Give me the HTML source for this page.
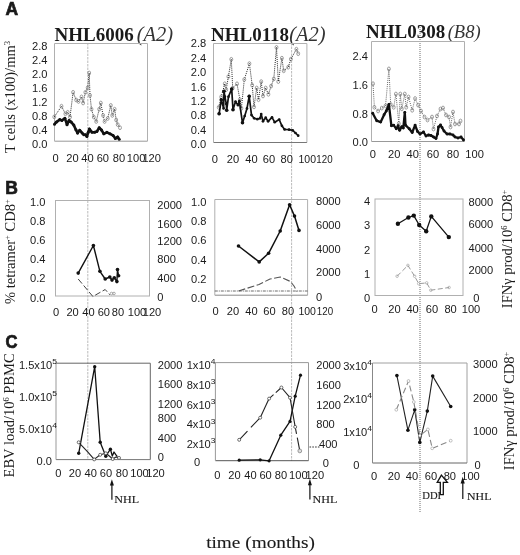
<!DOCTYPE html>
<html><head><meta charset="utf-8"><style>
html,body{margin:0;padding:0;background:#fff;}
svg{display:block;filter:blur(0.3px);}
</style></head><body>
<svg width="520" height="555" viewBox="0 0 520 555">
<rect width="520" height="555" fill="#fff"/>
<text transform="translate(5.5,14.6)" font-size="17.5" text-anchor="start" font-family='"Liberation Sans", sans-serif' font-weight="bold" font-style="normal" fill="#1a1a1a" stroke="#1a1a1a" stroke-width="0.7">A</text>
<text transform="translate(5.3,193.5)" font-size="17.5" text-anchor="start" font-family='"Liberation Sans", sans-serif' font-weight="bold" font-style="normal" fill="#1a1a1a" stroke="#1a1a1a" stroke-width="0.7">B</text>
<text transform="translate(5.6,347.6) scale(0.95,1)" font-size="17.5" text-anchor="start" font-family='"Liberation Sans", sans-serif' font-weight="bold" font-style="normal" fill="#1a1a1a" stroke="#1a1a1a" stroke-width="0.7">C</text>
<text x="54.5" y="40.5" font-size="19" font-family='"Liberation Serif", serif' fill="#1a1a1a"><tspan font-weight="bold">NHL6006</tspan><tspan dx="3" font-style="italic" font-size="20.5" fill="#333">(A2)</tspan></text>
<text x="211" y="41" font-size="19" font-family='"Liberation Serif", serif' fill="#1a1a1a"><tspan font-weight="bold">NHL0118</tspan><tspan dx="0" font-style="italic" font-size="20.5" fill="#333">(A2)</tspan></text>
<text x="366" y="38.3" font-size="19" font-family='"Liberation Serif", serif' fill="#1a1a1a"><tspan font-weight="bold">NHL0308</tspan><tspan dx="2.5" font-style="italic" font-size="18.5" fill="#333">(B8)</tspan></text>
<line x1="87.8" y1="43" x2="87.8" y2="459.6" stroke="#a8a8a8" stroke-width="0.8" stroke-dasharray="2.5,1"/>
<line x1="291.6" y1="43" x2="291.6" y2="461" stroke="#a8a8a8" stroke-width="0.8" stroke-dasharray="2.5,1"/>
<line x1="420" y1="27" x2="420" y2="513" stroke="#4a4a4a" stroke-width="0.8" stroke-dasharray="1,1"/>
<line x1="54.5" y1="43.5" x2="147.5" y2="43.5" stroke="#b0b0b0" stroke-width="1"/>
<line x1="147.5" y1="43.5" x2="147.5" y2="141.2" stroke="#b0b0b0" stroke-width="1"/>
<line x1="54.5" y1="141.2" x2="147.5" y2="141.2" stroke="#999" stroke-width="1"/>
<line x1="54.5" y1="43.5" x2="54.5" y2="141.2" stroke="#b0b0b0" stroke-width="1"/>
<line x1="213.5" y1="43.5" x2="306.9" y2="43.5" stroke="#b0b0b0" stroke-width="1"/>
<line x1="306.9" y1="43.5" x2="306.9" y2="142.5" stroke="#b0b0b0" stroke-width="1"/>
<line x1="213.5" y1="142.5" x2="306.9" y2="142.5" stroke="#777" stroke-width="1"/>
<line x1="213.5" y1="43.5" x2="213.5" y2="142.5" stroke="#b0b0b0" stroke-width="1"/>
<line x1="371.5" y1="41.5" x2="464.5" y2="41.5" stroke="#b0b0b0" stroke-width="1"/>
<line x1="464.5" y1="41.5" x2="464.5" y2="141.5" stroke="#b0b0b0" stroke-width="1"/>
<line x1="371.5" y1="141.5" x2="464.5" y2="141.5" stroke="#999" stroke-width="1"/>
<line x1="371.5" y1="41.5" x2="371.5" y2="141.5" stroke="#b0b0b0" stroke-width="1"/>
<text transform="translate(47.5,49.67) scale(1.06,1)" font-size="10.5" text-anchor="end" font-family='"Liberation Sans", sans-serif' font-weight="normal" font-style="normal" fill="#1a1a1a">2.8</text>
<text transform="translate(47.5,63.67) scale(1.06,1)" font-size="10.5" text-anchor="end" font-family='"Liberation Sans", sans-serif' font-weight="normal" font-style="normal" fill="#1a1a1a">2.4</text>
<text transform="translate(47.5,77.67) scale(1.06,1)" font-size="10.5" text-anchor="end" font-family='"Liberation Sans", sans-serif' font-weight="normal" font-style="normal" fill="#1a1a1a">2.0</text>
<text transform="translate(47.5,91.67) scale(1.06,1)" font-size="10.5" text-anchor="end" font-family='"Liberation Sans", sans-serif' font-weight="normal" font-style="normal" fill="#1a1a1a">1.6</text>
<text transform="translate(47.5,105.67) scale(1.06,1)" font-size="10.5" text-anchor="end" font-family='"Liberation Sans", sans-serif' font-weight="normal" font-style="normal" fill="#1a1a1a">1.2</text>
<text transform="translate(47.5,119.67) scale(1.06,1)" font-size="10.5" text-anchor="end" font-family='"Liberation Sans", sans-serif' font-weight="normal" font-style="normal" fill="#1a1a1a">0.8</text>
<text transform="translate(47.5,133.68) scale(1.06,1)" font-size="10.5" text-anchor="end" font-family='"Liberation Sans", sans-serif' font-weight="normal" font-style="normal" fill="#1a1a1a">0.4</text>
<text transform="translate(47.5,147.68) scale(1.06,1)" font-size="10.5" text-anchor="end" font-family='"Liberation Sans", sans-serif' font-weight="normal" font-style="normal" fill="#1a1a1a">0.0</text>
<text transform="translate(55.5,162.48) scale(1.06,1)" font-size="10.5" text-anchor="middle" font-family='"Liberation Sans", sans-serif' font-weight="normal" font-style="normal" fill="#1a1a1a">0</text>
<text transform="translate(72.4,162.48) scale(1.06,1)" font-size="10.5" text-anchor="middle" font-family='"Liberation Sans", sans-serif' font-weight="normal" font-style="normal" fill="#1a1a1a">20</text>
<text transform="translate(87.4,162.48) scale(1.06,1)" font-size="10.5" text-anchor="middle" font-family='"Liberation Sans", sans-serif' font-weight="normal" font-style="normal" fill="#1a1a1a">40</text>
<text transform="translate(102.8,162.48) scale(1.06,1)" font-size="10.5" text-anchor="middle" font-family='"Liberation Sans", sans-serif' font-weight="normal" font-style="normal" fill="#1a1a1a">60</text>
<text transform="translate(119,162.48) scale(1.06,1)" font-size="10.5" text-anchor="middle" font-family='"Liberation Sans", sans-serif' font-weight="normal" font-style="normal" fill="#1a1a1a">80</text>
<text transform="translate(136.1,162.48) scale(1.06,1)" font-size="10.5" text-anchor="middle" font-family='"Liberation Sans", sans-serif' font-weight="normal" font-style="normal" fill="#1a1a1a">100</text>
<text transform="translate(151.7,162.48) scale(1.06,1)" font-size="10.5" text-anchor="middle" font-family='"Liberation Sans", sans-serif' font-weight="normal" font-style="normal" fill="#1a1a1a">120</text>
<text transform="translate(206.3,47.38) scale(1.06,1)" font-size="10.5" text-anchor="end" font-family='"Liberation Sans", sans-serif' font-weight="normal" font-style="normal" fill="#1a1a1a">2.8</text>
<text transform="translate(206.3,61.78) scale(1.06,1)" font-size="10.5" text-anchor="end" font-family='"Liberation Sans", sans-serif' font-weight="normal" font-style="normal" fill="#1a1a1a">2.4</text>
<text transform="translate(206.3,76.2) scale(1.06,1)" font-size="10.5" text-anchor="end" font-family='"Liberation Sans", sans-serif' font-weight="normal" font-style="normal" fill="#1a1a1a">2.0</text>
<text transform="translate(206.3,90.61) scale(1.06,1)" font-size="10.5" text-anchor="end" font-family='"Liberation Sans", sans-serif' font-weight="normal" font-style="normal" fill="#1a1a1a">1.6</text>
<text transform="translate(206.3,105.02) scale(1.06,1)" font-size="10.5" text-anchor="end" font-family='"Liberation Sans", sans-serif' font-weight="normal" font-style="normal" fill="#1a1a1a">1.2</text>
<text transform="translate(206.3,119.42) scale(1.06,1)" font-size="10.5" text-anchor="end" font-family='"Liberation Sans", sans-serif' font-weight="normal" font-style="normal" fill="#1a1a1a">0.8</text>
<text transform="translate(206.3,133.84) scale(1.06,1)" font-size="10.5" text-anchor="end" font-family='"Liberation Sans", sans-serif' font-weight="normal" font-style="normal" fill="#1a1a1a">0.4</text>
<text transform="translate(206.3,148.25) scale(1.06,1)" font-size="10.5" text-anchor="end" font-family='"Liberation Sans", sans-serif' font-weight="normal" font-style="normal" fill="#1a1a1a">0.0</text>
<text transform="translate(214.8,162.88) scale(1.06,1)" font-size="10.5" text-anchor="middle" font-family='"Liberation Sans", sans-serif' font-weight="normal" font-style="normal" fill="#1a1a1a">0</text>
<text transform="translate(233,162.88) scale(1.06,1)" font-size="10.5" text-anchor="middle" font-family='"Liberation Sans", sans-serif' font-weight="normal" font-style="normal" fill="#1a1a1a">20</text>
<text transform="translate(251.4,162.88) scale(1.06,1)" font-size="10.5" text-anchor="middle" font-family='"Liberation Sans", sans-serif' font-weight="normal" font-style="normal" fill="#1a1a1a">40</text>
<text transform="translate(269,162.88) scale(1.06,1)" font-size="10.5" text-anchor="middle" font-family='"Liberation Sans", sans-serif' font-weight="normal" font-style="normal" fill="#1a1a1a">60</text>
<text transform="translate(286.7,162.88) scale(1.06,1)" font-size="10.5" text-anchor="middle" font-family='"Liberation Sans", sans-serif' font-weight="normal" font-style="normal" fill="#1a1a1a">80</text>
<text transform="translate(307.3,162.88)" font-size="10.5" text-anchor="middle" font-family='"Liberation Sans", sans-serif' font-weight="normal" font-style="normal" fill="#1a1a1a">100</text>
<text transform="translate(324.5,162.88) scale(0.93,1)" font-size="10.5" text-anchor="middle" font-family='"Liberation Sans", sans-serif' font-weight="normal" font-style="normal" fill="#1a1a1a">120</text>
<text transform="translate(368,59.97) scale(1.06,1)" font-size="10.5" text-anchor="end" font-family='"Liberation Sans", sans-serif' font-weight="normal" font-style="normal" fill="#1a1a1a">2.4</text>
<text transform="translate(368,89.17) scale(1.06,1)" font-size="10.5" text-anchor="end" font-family='"Liberation Sans", sans-serif' font-weight="normal" font-style="normal" fill="#1a1a1a">1.6</text>
<text transform="translate(368,118.47) scale(1.06,1)" font-size="10.5" text-anchor="end" font-family='"Liberation Sans", sans-serif' font-weight="normal" font-style="normal" fill="#1a1a1a">0.8</text>
<text transform="translate(368,145.98) scale(1.06,1)" font-size="10.5" text-anchor="end" font-family='"Liberation Sans", sans-serif' font-weight="normal" font-style="normal" fill="#1a1a1a">0.0</text>
<text transform="translate(372.8,157.68) scale(1.06,1)" font-size="10.5" text-anchor="middle" font-family='"Liberation Sans", sans-serif' font-weight="normal" font-style="normal" fill="#1a1a1a">0</text>
<text transform="translate(394.2,157.68) scale(1.06,1)" font-size="10.5" text-anchor="middle" font-family='"Liberation Sans", sans-serif' font-weight="normal" font-style="normal" fill="#1a1a1a">20</text>
<text transform="translate(412.7,157.68) scale(1.06,1)" font-size="10.5" text-anchor="middle" font-family='"Liberation Sans", sans-serif' font-weight="normal" font-style="normal" fill="#1a1a1a">40</text>
<text transform="translate(432.9,157.68) scale(1.06,1)" font-size="10.5" text-anchor="middle" font-family='"Liberation Sans", sans-serif' font-weight="normal" font-style="normal" fill="#1a1a1a">60</text>
<text transform="translate(453,157.68) scale(1.06,1)" font-size="10.5" text-anchor="middle" font-family='"Liberation Sans", sans-serif' font-weight="normal" font-style="normal" fill="#1a1a1a">80</text>
<text transform="translate(474.6,157.68) scale(1.06,1)" font-size="10.5" text-anchor="middle" font-family='"Liberation Sans", sans-serif' font-weight="normal" font-style="normal" fill="#1a1a1a">100</text>
<text transform="translate(14.8,97) rotate(-90)" text-anchor="middle" font-size="14.5" font-family='"Liberation Serif", serif' fill="#1a1a1a">T cells (x100)/mm<tspan font-size="8.5" baseline-shift="5.5">3</tspan></text>
<polyline points="54.3,116.9 61.5,106.2 65.4,113.8 67.7,112.3 70,117 73.1,92.3 76.2,100 78.5,101.5 81.5,96.9 83.1,103 85.4,92.3 87.7,87.7 89.2,73 90,95.4 91.5,109.2 93.8,117 96.2,121.5 99.2,109.2 100.8,103 103.1,115.4 104.6,121.5 107.7,118.5 110.8,105.4 112.3,115.4 114.6,109.2 116.2,120 117.7,124.6 120,127.7" fill="none" stroke="#222" stroke-width="1.0" stroke-linejoin="round" stroke-dasharray="1,1.1"/>
<ellipse cx="54.3" cy="116.9" rx="1.45" ry="1.9" fill="none" stroke="#777" stroke-width="0.7"/>
<ellipse cx="61.5" cy="106.2" rx="1.45" ry="1.9" fill="none" stroke="#777" stroke-width="0.7"/>
<ellipse cx="65.4" cy="113.8" rx="1.45" ry="1.9" fill="none" stroke="#777" stroke-width="0.7"/>
<ellipse cx="67.7" cy="112.3" rx="1.45" ry="1.9" fill="none" stroke="#777" stroke-width="0.7"/>
<ellipse cx="70" cy="117" rx="1.45" ry="1.9" fill="none" stroke="#777" stroke-width="0.7"/>
<ellipse cx="73.1" cy="92.3" rx="1.45" ry="1.9" fill="none" stroke="#777" stroke-width="0.7"/>
<ellipse cx="76.2" cy="100" rx="1.45" ry="1.9" fill="none" stroke="#777" stroke-width="0.7"/>
<ellipse cx="78.5" cy="101.5" rx="1.45" ry="1.9" fill="none" stroke="#777" stroke-width="0.7"/>
<ellipse cx="81.5" cy="96.9" rx="1.45" ry="1.9" fill="none" stroke="#777" stroke-width="0.7"/>
<ellipse cx="83.1" cy="103" rx="1.45" ry="1.9" fill="none" stroke="#777" stroke-width="0.7"/>
<ellipse cx="85.4" cy="92.3" rx="1.45" ry="1.9" fill="none" stroke="#777" stroke-width="0.7"/>
<ellipse cx="87.7" cy="87.7" rx="1.45" ry="1.9" fill="none" stroke="#777" stroke-width="0.7"/>
<ellipse cx="89.2" cy="73" rx="1.45" ry="1.9" fill="none" stroke="#777" stroke-width="0.7"/>
<ellipse cx="90" cy="95.4" rx="1.45" ry="1.9" fill="none" stroke="#777" stroke-width="0.7"/>
<ellipse cx="91.5" cy="109.2" rx="1.45" ry="1.9" fill="none" stroke="#777" stroke-width="0.7"/>
<ellipse cx="93.8" cy="117" rx="1.45" ry="1.9" fill="none" stroke="#777" stroke-width="0.7"/>
<ellipse cx="96.2" cy="121.5" rx="1.45" ry="1.9" fill="none" stroke="#777" stroke-width="0.7"/>
<ellipse cx="99.2" cy="109.2" rx="1.45" ry="1.9" fill="none" stroke="#777" stroke-width="0.7"/>
<ellipse cx="100.8" cy="103" rx="1.45" ry="1.9" fill="none" stroke="#777" stroke-width="0.7"/>
<ellipse cx="103.1" cy="115.4" rx="1.45" ry="1.9" fill="none" stroke="#777" stroke-width="0.7"/>
<ellipse cx="104.6" cy="121.5" rx="1.45" ry="1.9" fill="none" stroke="#777" stroke-width="0.7"/>
<ellipse cx="107.7" cy="118.5" rx="1.45" ry="1.9" fill="none" stroke="#777" stroke-width="0.7"/>
<ellipse cx="110.8" cy="105.4" rx="1.45" ry="1.9" fill="none" stroke="#777" stroke-width="0.7"/>
<ellipse cx="112.3" cy="115.4" rx="1.45" ry="1.9" fill="none" stroke="#777" stroke-width="0.7"/>
<ellipse cx="114.6" cy="109.2" rx="1.45" ry="1.9" fill="none" stroke="#777" stroke-width="0.7"/>
<ellipse cx="116.2" cy="120" rx="1.45" ry="1.9" fill="none" stroke="#777" stroke-width="0.7"/>
<ellipse cx="117.7" cy="124.6" rx="1.45" ry="1.9" fill="none" stroke="#777" stroke-width="0.7"/>
<ellipse cx="120" cy="127.7" rx="1.45" ry="1.9" fill="none" stroke="#777" stroke-width="0.7"/>
<polyline points="54.5,124.2 56.4,122.1 59.8,119.6 61.9,120.4 64.9,118.3 67,124.7 69.1,120.4 71.2,122.1 73.8,125.1 75.9,129.7 77.6,133.1 79.7,130.2 82.2,133.1 83.9,134.8 85.6,134.8 86.9,136.5 88.2,132.3 89.4,128.9 92,132.3 94.6,132.3 96.9,131.5 99.2,127.7 101.5,130 103.8,133.8 106.9,132.3 110,133.8 113.1,135.4 115.4,138.5 117.7,136.9 119.2,139.2" fill="none" stroke="#111" stroke-width="2.6" stroke-linejoin="round"/>
<circle cx="54.5" cy="124.2" r="1.5" fill="#111" stroke="none" stroke-width="0.8"/>
<circle cx="56.4" cy="122.1" r="1.5" fill="#111" stroke="none" stroke-width="0.8"/>
<circle cx="59.8" cy="119.6" r="1.5" fill="#111" stroke="none" stroke-width="0.8"/>
<circle cx="61.9" cy="120.4" r="1.5" fill="#111" stroke="none" stroke-width="0.8"/>
<circle cx="64.9" cy="118.3" r="1.5" fill="#111" stroke="none" stroke-width="0.8"/>
<circle cx="67" cy="124.7" r="1.5" fill="#111" stroke="none" stroke-width="0.8"/>
<circle cx="69.1" cy="120.4" r="1.5" fill="#111" stroke="none" stroke-width="0.8"/>
<circle cx="71.2" cy="122.1" r="1.5" fill="#111" stroke="none" stroke-width="0.8"/>
<circle cx="73.8" cy="125.1" r="1.5" fill="#111" stroke="none" stroke-width="0.8"/>
<circle cx="75.9" cy="129.7" r="1.5" fill="#111" stroke="none" stroke-width="0.8"/>
<circle cx="77.6" cy="133.1" r="1.5" fill="#111" stroke="none" stroke-width="0.8"/>
<circle cx="79.7" cy="130.2" r="1.5" fill="#111" stroke="none" stroke-width="0.8"/>
<circle cx="82.2" cy="133.1" r="1.5" fill="#111" stroke="none" stroke-width="0.8"/>
<circle cx="83.9" cy="134.8" r="1.5" fill="#111" stroke="none" stroke-width="0.8"/>
<circle cx="85.6" cy="134.8" r="1.5" fill="#111" stroke="none" stroke-width="0.8"/>
<circle cx="86.9" cy="136.5" r="1.5" fill="#111" stroke="none" stroke-width="0.8"/>
<circle cx="88.2" cy="132.3" r="1.5" fill="#111" stroke="none" stroke-width="0.8"/>
<circle cx="89.4" cy="128.9" r="1.5" fill="#111" stroke="none" stroke-width="0.8"/>
<circle cx="92" cy="132.3" r="1.5" fill="#111" stroke="none" stroke-width="0.8"/>
<circle cx="94.6" cy="132.3" r="1.5" fill="#111" stroke="none" stroke-width="0.8"/>
<circle cx="96.9" cy="131.5" r="1.5" fill="#111" stroke="none" stroke-width="0.8"/>
<circle cx="99.2" cy="127.7" r="1.5" fill="#111" stroke="none" stroke-width="0.8"/>
<circle cx="101.5" cy="130" r="1.5" fill="#111" stroke="none" stroke-width="0.8"/>
<circle cx="103.8" cy="133.8" r="1.5" fill="#111" stroke="none" stroke-width="0.8"/>
<circle cx="106.9" cy="132.3" r="1.5" fill="#111" stroke="none" stroke-width="0.8"/>
<circle cx="110" cy="133.8" r="1.5" fill="#111" stroke="none" stroke-width="0.8"/>
<circle cx="113.1" cy="135.4" r="1.5" fill="#111" stroke="none" stroke-width="0.8"/>
<circle cx="115.4" cy="138.5" r="1.5" fill="#111" stroke="none" stroke-width="0.8"/>
<circle cx="117.7" cy="136.9" r="1.5" fill="#111" stroke="none" stroke-width="0.8"/>
<circle cx="119.2" cy="139.2" r="1.5" fill="#111" stroke="none" stroke-width="0.8"/>
<polyline points="218.7,107.3 221.2,96.8 224.8,83.8 226.2,89.6 228.4,76.6 231.3,59.3 232.7,88.1 237,83.8 239.9,99.6 241.4,108.3 244.3,79.5 249.4,63.6 252.2,85.2 254,106.9 256.7,88 258.5,99.7 261.2,81.6 263,96 265.7,88 268.4,94.3 271.1,86.1 273.8,78.9 276.5,47.4 278.3,81.6 281.9,58.2 283.7,70.8 288.2,67.2 290.9,59.1 296.4,49.2 298.2,53.7" fill="none" stroke="#222" stroke-width="1.0" stroke-linejoin="round" stroke-dasharray="1,1.1"/>
<ellipse cx="218.7" cy="107.3" rx="1.45" ry="1.9" fill="none" stroke="#777" stroke-width="0.7"/>
<ellipse cx="221.2" cy="96.8" rx="1.45" ry="1.9" fill="none" stroke="#777" stroke-width="0.7"/>
<ellipse cx="224.8" cy="83.8" rx="1.45" ry="1.9" fill="none" stroke="#777" stroke-width="0.7"/>
<ellipse cx="226.2" cy="89.6" rx="1.45" ry="1.9" fill="none" stroke="#777" stroke-width="0.7"/>
<ellipse cx="228.4" cy="76.6" rx="1.45" ry="1.9" fill="none" stroke="#777" stroke-width="0.7"/>
<ellipse cx="231.3" cy="59.3" rx="1.45" ry="1.9" fill="none" stroke="#777" stroke-width="0.7"/>
<ellipse cx="232.7" cy="88.1" rx="1.45" ry="1.9" fill="none" stroke="#777" stroke-width="0.7"/>
<ellipse cx="237" cy="83.8" rx="1.45" ry="1.9" fill="none" stroke="#777" stroke-width="0.7"/>
<ellipse cx="239.9" cy="99.6" rx="1.45" ry="1.9" fill="none" stroke="#777" stroke-width="0.7"/>
<ellipse cx="241.4" cy="108.3" rx="1.45" ry="1.9" fill="none" stroke="#777" stroke-width="0.7"/>
<ellipse cx="244.3" cy="79.5" rx="1.45" ry="1.9" fill="none" stroke="#777" stroke-width="0.7"/>
<ellipse cx="249.4" cy="63.6" rx="1.45" ry="1.9" fill="none" stroke="#777" stroke-width="0.7"/>
<ellipse cx="252.2" cy="85.2" rx="1.45" ry="1.9" fill="none" stroke="#777" stroke-width="0.7"/>
<ellipse cx="254" cy="106.9" rx="1.45" ry="1.9" fill="none" stroke="#777" stroke-width="0.7"/>
<ellipse cx="256.7" cy="88" rx="1.45" ry="1.9" fill="none" stroke="#777" stroke-width="0.7"/>
<ellipse cx="258.5" cy="99.7" rx="1.45" ry="1.9" fill="none" stroke="#777" stroke-width="0.7"/>
<ellipse cx="261.2" cy="81.6" rx="1.45" ry="1.9" fill="none" stroke="#777" stroke-width="0.7"/>
<ellipse cx="263" cy="96" rx="1.45" ry="1.9" fill="none" stroke="#777" stroke-width="0.7"/>
<ellipse cx="265.7" cy="88" rx="1.45" ry="1.9" fill="none" stroke="#777" stroke-width="0.7"/>
<ellipse cx="268.4" cy="94.3" rx="1.45" ry="1.9" fill="none" stroke="#777" stroke-width="0.7"/>
<ellipse cx="271.1" cy="86.1" rx="1.45" ry="1.9" fill="none" stroke="#777" stroke-width="0.7"/>
<ellipse cx="273.8" cy="78.9" rx="1.45" ry="1.9" fill="none" stroke="#777" stroke-width="0.7"/>
<ellipse cx="276.5" cy="47.4" rx="1.45" ry="1.9" fill="none" stroke="#777" stroke-width="0.7"/>
<ellipse cx="278.3" cy="81.6" rx="1.45" ry="1.9" fill="none" stroke="#777" stroke-width="0.7"/>
<ellipse cx="281.9" cy="58.2" rx="1.45" ry="1.9" fill="none" stroke="#777" stroke-width="0.7"/>
<ellipse cx="283.7" cy="70.8" rx="1.45" ry="1.9" fill="none" stroke="#777" stroke-width="0.7"/>
<ellipse cx="288.2" cy="67.2" rx="1.45" ry="1.9" fill="none" stroke="#777" stroke-width="0.7"/>
<ellipse cx="290.9" cy="59.1" rx="1.45" ry="1.9" fill="none" stroke="#777" stroke-width="0.7"/>
<ellipse cx="296.4" cy="49.2" rx="1.45" ry="1.9" fill="none" stroke="#777" stroke-width="0.7"/>
<ellipse cx="298.2" cy="53.7" rx="1.45" ry="1.9" fill="none" stroke="#777" stroke-width="0.7"/>
<polyline points="219.1,113.8 221.3,99.8 223.6,108.4 224,91.3 224.9,96.7 226.3,103.9 226.7,110.2 228.5,96.7 231.7,89 233,109.7 235.5,101.6 238,105.2 239.3,101.2 242.5,122.8 244.7,116 247,108.4 249.2,96.2 251.5,115.1 254.2,118.3 257.3,119.2 260,118.3 261.2,114.1 263,121.3 265.7,117.7 268.1,121.3 272,117.3 274.7,122.2 279.2,119.5 281.9,125.8 284.6,129.4 289.1,129.7 292.7,130.3 295.5,133 298.2,135.7" fill="none" stroke="#111" stroke-width="1.7" stroke-linejoin="round"/>
<circle cx="219.1" cy="113.8" r="1.35" fill="#111" stroke="none" stroke-width="0.8"/>
<circle cx="221.3" cy="99.8" r="1.35" fill="#111" stroke="none" stroke-width="0.8"/>
<circle cx="223.6" cy="108.4" r="1.35" fill="#111" stroke="none" stroke-width="0.8"/>
<circle cx="224" cy="91.3" r="1.35" fill="#111" stroke="none" stroke-width="0.8"/>
<circle cx="224.9" cy="96.7" r="1.35" fill="#111" stroke="none" stroke-width="0.8"/>
<circle cx="226.3" cy="103.9" r="1.35" fill="#111" stroke="none" stroke-width="0.8"/>
<circle cx="226.7" cy="110.2" r="1.35" fill="#111" stroke="none" stroke-width="0.8"/>
<circle cx="228.5" cy="96.7" r="1.35" fill="#111" stroke="none" stroke-width="0.8"/>
<circle cx="231.7" cy="89" r="1.35" fill="#111" stroke="none" stroke-width="0.8"/>
<circle cx="233" cy="109.7" r="1.35" fill="#111" stroke="none" stroke-width="0.8"/>
<circle cx="235.5" cy="101.6" r="1.35" fill="#111" stroke="none" stroke-width="0.8"/>
<circle cx="238" cy="105.2" r="1.35" fill="#111" stroke="none" stroke-width="0.8"/>
<circle cx="239.3" cy="101.2" r="1.35" fill="#111" stroke="none" stroke-width="0.8"/>
<circle cx="242.5" cy="122.8" r="1.35" fill="#111" stroke="none" stroke-width="0.8"/>
<circle cx="244.7" cy="116" r="1.35" fill="#111" stroke="none" stroke-width="0.8"/>
<circle cx="247" cy="108.4" r="1.35" fill="#111" stroke="none" stroke-width="0.8"/>
<circle cx="249.2" cy="96.2" r="1.35" fill="#111" stroke="none" stroke-width="0.8"/>
<circle cx="251.5" cy="115.1" r="1.35" fill="#111" stroke="none" stroke-width="0.8"/>
<circle cx="254.2" cy="118.3" r="1.35" fill="#111" stroke="none" stroke-width="0.8"/>
<circle cx="257.3" cy="119.2" r="1.35" fill="#111" stroke="none" stroke-width="0.8"/>
<circle cx="260" cy="118.3" r="1.35" fill="#111" stroke="none" stroke-width="0.8"/>
<circle cx="261.2" cy="114.1" r="1.35" fill="#111" stroke="none" stroke-width="0.8"/>
<circle cx="263" cy="121.3" r="1.35" fill="#111" stroke="none" stroke-width="0.8"/>
<circle cx="265.7" cy="117.7" r="1.35" fill="#111" stroke="none" stroke-width="0.8"/>
<circle cx="268.1" cy="121.3" r="1.35" fill="#111" stroke="none" stroke-width="0.8"/>
<circle cx="272" cy="117.3" r="1.35" fill="#111" stroke="none" stroke-width="0.8"/>
<circle cx="274.7" cy="122.2" r="1.35" fill="#111" stroke="none" stroke-width="0.8"/>
<circle cx="279.2" cy="119.5" r="1.35" fill="#111" stroke="none" stroke-width="0.8"/>
<circle cx="281.9" cy="125.8" r="1.35" fill="#111" stroke="none" stroke-width="0.8"/>
<circle cx="284.6" cy="129.4" r="1.35" fill="#111" stroke="none" stroke-width="0.8"/>
<circle cx="289.1" cy="129.7" r="1.35" fill="#111" stroke="none" stroke-width="0.8"/>
<circle cx="292.7" cy="130.3" r="1.35" fill="#111" stroke="none" stroke-width="0.8"/>
<circle cx="295.5" cy="133" r="1.35" fill="#111" stroke="none" stroke-width="0.8"/>
<circle cx="298.2" cy="135.7" r="1.35" fill="#111" stroke="none" stroke-width="0.8"/>
<circle cx="219.1" cy="113.8" r="1.8" fill="#111" stroke="none" stroke-width="0.8"/>
<circle cx="221.3" cy="99.8" r="1.8" fill="#111" stroke="none" stroke-width="0.8"/>
<circle cx="224" cy="91.3" r="1.8" fill="#111" stroke="none" stroke-width="0.8"/>
<circle cx="226.7" cy="110.2" r="1.8" fill="#111" stroke="none" stroke-width="0.8"/>
<circle cx="231.7" cy="89" r="1.8" fill="#111" stroke="none" stroke-width="0.8"/>
<circle cx="233" cy="109.7" r="1.8" fill="#111" stroke="none" stroke-width="0.8"/>
<circle cx="242.5" cy="122.8" r="1.8" fill="#111" stroke="none" stroke-width="0.8"/>
<circle cx="249.2" cy="96.2" r="1.8" fill="#111" stroke="none" stroke-width="0.8"/>
<polyline points="373,83.7 374.4,107.3 378.1,111 381.8,108.1 385.5,105.9 388.9,68.9 390.7,104.4 393.7,107.3 395.9,94 398.8,123.6 400.3,94 401.8,108.8 404.8,94 406.2,107.3 408.5,97 412.2,110.3 415.1,98.5 418.1,105.1 421,111 424.5,117 427.5,120 432,117 433.5,129 437,116 440.5,109 443,108 446,115 449,117 450.5,127 453,112 455,124 459,124 460.5,121" fill="none" stroke="#555" stroke-width="0.9" stroke-linejoin="round" stroke-dasharray="1,1.1"/>
<ellipse cx="373" cy="83.7" rx="1.45" ry="1.9" fill="none" stroke="#777" stroke-width="0.7"/>
<ellipse cx="374.4" cy="107.3" rx="1.45" ry="1.9" fill="none" stroke="#777" stroke-width="0.7"/>
<ellipse cx="378.1" cy="111" rx="1.45" ry="1.9" fill="none" stroke="#777" stroke-width="0.7"/>
<ellipse cx="381.8" cy="108.1" rx="1.45" ry="1.9" fill="none" stroke="#777" stroke-width="0.7"/>
<ellipse cx="385.5" cy="105.9" rx="1.45" ry="1.9" fill="none" stroke="#777" stroke-width="0.7"/>
<ellipse cx="388.9" cy="68.9" rx="1.45" ry="1.9" fill="none" stroke="#777" stroke-width="0.7"/>
<ellipse cx="390.7" cy="104.4" rx="1.45" ry="1.9" fill="none" stroke="#777" stroke-width="0.7"/>
<ellipse cx="393.7" cy="107.3" rx="1.45" ry="1.9" fill="none" stroke="#777" stroke-width="0.7"/>
<ellipse cx="395.9" cy="94" rx="1.45" ry="1.9" fill="none" stroke="#777" stroke-width="0.7"/>
<ellipse cx="398.8" cy="123.6" rx="1.45" ry="1.9" fill="none" stroke="#777" stroke-width="0.7"/>
<ellipse cx="400.3" cy="94" rx="1.45" ry="1.9" fill="none" stroke="#777" stroke-width="0.7"/>
<ellipse cx="401.8" cy="108.8" rx="1.45" ry="1.9" fill="none" stroke="#777" stroke-width="0.7"/>
<ellipse cx="404.8" cy="94" rx="1.45" ry="1.9" fill="none" stroke="#777" stroke-width="0.7"/>
<ellipse cx="406.2" cy="107.3" rx="1.45" ry="1.9" fill="none" stroke="#777" stroke-width="0.7"/>
<ellipse cx="408.5" cy="97" rx="1.45" ry="1.9" fill="none" stroke="#777" stroke-width="0.7"/>
<ellipse cx="412.2" cy="110.3" rx="1.45" ry="1.9" fill="none" stroke="#777" stroke-width="0.7"/>
<ellipse cx="415.1" cy="98.5" rx="1.45" ry="1.9" fill="none" stroke="#777" stroke-width="0.7"/>
<ellipse cx="418.1" cy="105.1" rx="1.45" ry="1.9" fill="none" stroke="#777" stroke-width="0.7"/>
<ellipse cx="421" cy="111" rx="1.45" ry="1.9" fill="none" stroke="#777" stroke-width="0.7"/>
<ellipse cx="424.5" cy="117" rx="1.45" ry="1.9" fill="none" stroke="#777" stroke-width="0.7"/>
<ellipse cx="427.5" cy="120" rx="1.45" ry="1.9" fill="none" stroke="#777" stroke-width="0.7"/>
<ellipse cx="432" cy="117" rx="1.45" ry="1.9" fill="none" stroke="#777" stroke-width="0.7"/>
<ellipse cx="433.5" cy="129" rx="1.45" ry="1.9" fill="none" stroke="#777" stroke-width="0.7"/>
<ellipse cx="437" cy="116" rx="1.45" ry="1.9" fill="none" stroke="#777" stroke-width="0.7"/>
<ellipse cx="440.5" cy="109" rx="1.45" ry="1.9" fill="none" stroke="#777" stroke-width="0.7"/>
<ellipse cx="443" cy="108" rx="1.45" ry="1.9" fill="none" stroke="#777" stroke-width="0.7"/>
<ellipse cx="446" cy="115" rx="1.45" ry="1.9" fill="none" stroke="#777" stroke-width="0.7"/>
<ellipse cx="449" cy="117" rx="1.45" ry="1.9" fill="none" stroke="#777" stroke-width="0.7"/>
<ellipse cx="450.5" cy="127" rx="1.45" ry="1.9" fill="none" stroke="#777" stroke-width="0.7"/>
<ellipse cx="453" cy="112" rx="1.45" ry="1.9" fill="none" stroke="#777" stroke-width="0.7"/>
<ellipse cx="455" cy="124" rx="1.45" ry="1.9" fill="none" stroke="#777" stroke-width="0.7"/>
<ellipse cx="459" cy="124" rx="1.45" ry="1.9" fill="none" stroke="#777" stroke-width="0.7"/>
<ellipse cx="460.5" cy="121" rx="1.45" ry="1.9" fill="none" stroke="#777" stroke-width="0.7"/>
<polyline points="372.7,113.3 376.7,120.7 380.7,122.1 384.1,114.7 386.3,111 388.9,104.4 391.4,125.8 393.7,125.1 396.3,128.8 398.1,125.8 399.6,130.3 401.8,126.6 403.3,128 404.8,112.5 405.5,125.1 409.2,128.8 412.2,132.5 415.1,125.1 417.5,131.5 420,134 423.5,132 426,136 428.5,135 431,135.5 433.5,137 436,138.5 437.5,134 438.5,127 440.5,125 442,127.5 444,131 447,134 450,134 453,135 455,137 458,138 461,137 463.5,140" fill="none" stroke="#111" stroke-width="2.3" stroke-linejoin="round"/>
<circle cx="372.7" cy="113.3" r="1.45" fill="#111" stroke="none" stroke-width="0.8"/>
<circle cx="376.7" cy="120.7" r="1.45" fill="#111" stroke="none" stroke-width="0.8"/>
<circle cx="380.7" cy="122.1" r="1.45" fill="#111" stroke="none" stroke-width="0.8"/>
<circle cx="384.1" cy="114.7" r="1.45" fill="#111" stroke="none" stroke-width="0.8"/>
<circle cx="386.3" cy="111" r="1.45" fill="#111" stroke="none" stroke-width="0.8"/>
<circle cx="388.9" cy="104.4" r="1.45" fill="#111" stroke="none" stroke-width="0.8"/>
<circle cx="391.4" cy="125.8" r="1.45" fill="#111" stroke="none" stroke-width="0.8"/>
<circle cx="393.7" cy="125.1" r="1.45" fill="#111" stroke="none" stroke-width="0.8"/>
<circle cx="396.3" cy="128.8" r="1.45" fill="#111" stroke="none" stroke-width="0.8"/>
<circle cx="398.1" cy="125.8" r="1.45" fill="#111" stroke="none" stroke-width="0.8"/>
<circle cx="399.6" cy="130.3" r="1.45" fill="#111" stroke="none" stroke-width="0.8"/>
<circle cx="401.8" cy="126.6" r="1.45" fill="#111" stroke="none" stroke-width="0.8"/>
<circle cx="403.3" cy="128" r="1.45" fill="#111" stroke="none" stroke-width="0.8"/>
<circle cx="404.8" cy="112.5" r="1.45" fill="#111" stroke="none" stroke-width="0.8"/>
<circle cx="405.5" cy="125.1" r="1.45" fill="#111" stroke="none" stroke-width="0.8"/>
<circle cx="409.2" cy="128.8" r="1.45" fill="#111" stroke="none" stroke-width="0.8"/>
<circle cx="412.2" cy="132.5" r="1.45" fill="#111" stroke="none" stroke-width="0.8"/>
<circle cx="415.1" cy="125.1" r="1.45" fill="#111" stroke="none" stroke-width="0.8"/>
<circle cx="417.5" cy="131.5" r="1.45" fill="#111" stroke="none" stroke-width="0.8"/>
<circle cx="420" cy="134" r="1.45" fill="#111" stroke="none" stroke-width="0.8"/>
<circle cx="423.5" cy="132" r="1.45" fill="#111" stroke="none" stroke-width="0.8"/>
<circle cx="426" cy="136" r="1.45" fill="#111" stroke="none" stroke-width="0.8"/>
<circle cx="428.5" cy="135" r="1.45" fill="#111" stroke="none" stroke-width="0.8"/>
<circle cx="431" cy="135.5" r="1.45" fill="#111" stroke="none" stroke-width="0.8"/>
<circle cx="433.5" cy="137" r="1.45" fill="#111" stroke="none" stroke-width="0.8"/>
<circle cx="436" cy="138.5" r="1.45" fill="#111" stroke="none" stroke-width="0.8"/>
<circle cx="437.5" cy="134" r="1.45" fill="#111" stroke="none" stroke-width="0.8"/>
<circle cx="438.5" cy="127" r="1.45" fill="#111" stroke="none" stroke-width="0.8"/>
<circle cx="440.5" cy="125" r="1.45" fill="#111" stroke="none" stroke-width="0.8"/>
<circle cx="442" cy="127.5" r="1.45" fill="#111" stroke="none" stroke-width="0.8"/>
<circle cx="444" cy="131" r="1.45" fill="#111" stroke="none" stroke-width="0.8"/>
<circle cx="447" cy="134" r="1.45" fill="#111" stroke="none" stroke-width="0.8"/>
<circle cx="450" cy="134" r="1.45" fill="#111" stroke="none" stroke-width="0.8"/>
<circle cx="453" cy="135" r="1.45" fill="#111" stroke="none" stroke-width="0.8"/>
<circle cx="455" cy="137" r="1.45" fill="#111" stroke="none" stroke-width="0.8"/>
<circle cx="458" cy="138" r="1.45" fill="#111" stroke="none" stroke-width="0.8"/>
<circle cx="461" cy="137" r="1.45" fill="#111" stroke="none" stroke-width="0.8"/>
<circle cx="463.5" cy="140" r="1.45" fill="#111" stroke="none" stroke-width="0.8"/>
<rect x="55.5" y="200.5" width="94.0" height="95.5" fill="none" stroke="#b0b0b0" stroke-width="1"/>
<line x1="214.8" y1="199.5" x2="307.6" y2="199.5" stroke="#b0b0b0" stroke-width="1"/>
<line x1="307.6" y1="199.5" x2="307.6" y2="295.2" stroke="#b0b0b0" stroke-width="1"/>
<line x1="214.8" y1="295.2" x2="307.6" y2="295.2" stroke="#888" stroke-width="1"/>
<line x1="214.8" y1="199.5" x2="214.8" y2="295.2" stroke="#b0b0b0" stroke-width="1"/>
<rect x="375" y="199" width="88" height="96.5" fill="none" stroke="#b0b0b0" stroke-width="1"/>
<text transform="translate(45.5,205.98) scale(1.06,1)" font-size="10.5" text-anchor="end" font-family='"Liberation Sans", sans-serif' font-weight="normal" font-style="normal" fill="#1a1a1a">1.0</text>
<text transform="translate(45.5,224.88) scale(1.06,1)" font-size="10.5" text-anchor="end" font-family='"Liberation Sans", sans-serif' font-weight="normal" font-style="normal" fill="#1a1a1a">0.8</text>
<text transform="translate(45.5,244.18) scale(1.06,1)" font-size="10.5" text-anchor="end" font-family='"Liberation Sans", sans-serif' font-weight="normal" font-style="normal" fill="#1a1a1a">0.6</text>
<text transform="translate(45.5,263.18) scale(1.06,1)" font-size="10.5" text-anchor="end" font-family='"Liberation Sans", sans-serif' font-weight="normal" font-style="normal" fill="#1a1a1a">0.4</text>
<text transform="translate(45.5,282.28) scale(1.06,1)" font-size="10.5" text-anchor="end" font-family='"Liberation Sans", sans-serif' font-weight="normal" font-style="normal" fill="#1a1a1a">0.2</text>
<text transform="translate(45.5,301.68) scale(1.06,1)" font-size="10.5" text-anchor="end" font-family='"Liberation Sans", sans-serif' font-weight="normal" font-style="normal" fill="#1a1a1a">0.0</text>
<text transform="translate(157.3,209.18) scale(1.06,1)" font-size="10.5" text-anchor="start" font-family='"Liberation Sans", sans-serif' font-weight="normal" font-style="normal" fill="#1a1a1a">2000</text>
<text transform="translate(157.3,227.98) scale(1.06,1)" font-size="10.5" text-anchor="start" font-family='"Liberation Sans", sans-serif' font-weight="normal" font-style="normal" fill="#1a1a1a">1600</text>
<text transform="translate(157.3,245.18) scale(1.06,1)" font-size="10.5" text-anchor="start" font-family='"Liberation Sans", sans-serif' font-weight="normal" font-style="normal" fill="#1a1a1a">1200</text>
<text transform="translate(157.3,263.48) scale(1.06,1)" font-size="10.5" text-anchor="start" font-family='"Liberation Sans", sans-serif' font-weight="normal" font-style="normal" fill="#1a1a1a">800</text>
<text transform="translate(157.3,282.18) scale(1.06,1)" font-size="10.5" text-anchor="start" font-family='"Liberation Sans", sans-serif' font-weight="normal" font-style="normal" fill="#1a1a1a">400</text>
<text transform="translate(157.3,300.68) scale(1.06,1)" font-size="10.5" text-anchor="start" font-family='"Liberation Sans", sans-serif' font-weight="normal" font-style="normal" fill="#1a1a1a">0</text>
<text transform="translate(56,316.28) scale(1.06,1)" font-size="10.5" text-anchor="middle" font-family='"Liberation Sans", sans-serif' font-weight="normal" font-style="normal" fill="#1a1a1a">0</text>
<text transform="translate(72.6,316.28) scale(1.06,1)" font-size="10.5" text-anchor="middle" font-family='"Liberation Sans", sans-serif' font-weight="normal" font-style="normal" fill="#1a1a1a">20</text>
<text transform="translate(88.5,316.28) scale(1.06,1)" font-size="10.5" text-anchor="middle" font-family='"Liberation Sans", sans-serif' font-weight="normal" font-style="normal" fill="#1a1a1a">40</text>
<text transform="translate(103.8,316.28) scale(1.06,1)" font-size="10.5" text-anchor="middle" font-family='"Liberation Sans", sans-serif' font-weight="normal" font-style="normal" fill="#1a1a1a">60</text>
<text transform="translate(118,316.28) scale(1.06,1)" font-size="10.5" text-anchor="middle" font-family='"Liberation Sans", sans-serif' font-weight="normal" font-style="normal" fill="#1a1a1a">80</text>
<text transform="translate(137,316.28) scale(1.06,1)" font-size="10.5" text-anchor="middle" font-family='"Liberation Sans", sans-serif' font-weight="normal" font-style="normal" fill="#1a1a1a">100</text>
<text transform="translate(152,316.28) scale(1.06,1)" font-size="10.5" text-anchor="middle" font-family='"Liberation Sans", sans-serif' font-weight="normal" font-style="normal" fill="#1a1a1a">120</text>
<text transform="translate(14.9,251.6) rotate(-90)" text-anchor="middle" font-size="14.5" font-family='"Liberation Serif", serif' fill="#1a1a1a">% tetramer<tspan font-size="8.5" baseline-shift="5.5">+</tspan> CD8<tspan font-size="8.5" baseline-shift="5.5">+</tspan></text>
<polyline points="78.2,273.1 93.4,245.5 99.9,271.3 105.2,279 109.8,277 112,280.1 114.3,277.8 116.9,281.6 117.5,269.6 118.6,275.8" fill="none" stroke="#111" stroke-width="1.4" stroke-linejoin="round"/>
<circle cx="78.2" cy="273.1" r="1.8" fill="#111" stroke="none" stroke-width="0.8"/>
<circle cx="93.4" cy="245.5" r="1.8" fill="#111" stroke="none" stroke-width="0.8"/>
<circle cx="99.9" cy="271.3" r="1.8" fill="#111" stroke="none" stroke-width="0.8"/>
<circle cx="105.2" cy="279" r="1.8" fill="#111" stroke="none" stroke-width="0.8"/>
<circle cx="109.8" cy="277" r="1.8" fill="#111" stroke="none" stroke-width="0.8"/>
<circle cx="112" cy="280.1" r="1.8" fill="#111" stroke="none" stroke-width="0.8"/>
<circle cx="114.3" cy="277.8" r="1.8" fill="#111" stroke="none" stroke-width="0.8"/>
<circle cx="116.9" cy="281.6" r="1.8" fill="#111" stroke="none" stroke-width="0.8"/>
<circle cx="117.5" cy="269.6" r="1.8" fill="#111" stroke="none" stroke-width="0.8"/>
<circle cx="118.6" cy="275.8" r="1.8" fill="#111" stroke="none" stroke-width="0.8"/>
<polyline points="78.2,279 92.9,296.5 105.2,289.5 109.8,294.8" fill="none" stroke="#444" stroke-width="1.0" stroke-linejoin="round" stroke-dasharray="6,2.5"/>
<circle cx="111.5" cy="293.5" r="1.3" fill="none" stroke="#777" stroke-width="0.6"/>
<circle cx="114" cy="293.5" r="1.3" fill="none" stroke="#777" stroke-width="0.6"/>
<text transform="translate(206.5,205.88) scale(1.06,1)" font-size="10.5" text-anchor="end" font-family='"Liberation Sans", sans-serif' font-weight="normal" font-style="normal" fill="#1a1a1a">1.0</text>
<text transform="translate(206.5,225.12) scale(1.06,1)" font-size="10.5" text-anchor="end" font-family='"Liberation Sans", sans-serif' font-weight="normal" font-style="normal" fill="#1a1a1a">0.8</text>
<text transform="translate(206.5,244.38) scale(1.06,1)" font-size="10.5" text-anchor="end" font-family='"Liberation Sans", sans-serif' font-weight="normal" font-style="normal" fill="#1a1a1a">0.6</text>
<text transform="translate(206.5,263.62) scale(1.06,1)" font-size="10.5" text-anchor="end" font-family='"Liberation Sans", sans-serif' font-weight="normal" font-style="normal" fill="#1a1a1a">0.4</text>
<text transform="translate(206.5,282.88) scale(1.06,1)" font-size="10.5" text-anchor="end" font-family='"Liberation Sans", sans-serif' font-weight="normal" font-style="normal" fill="#1a1a1a">0.2</text>
<text transform="translate(206.5,302.12) scale(1.06,1)" font-size="10.5" text-anchor="end" font-family='"Liberation Sans", sans-serif' font-weight="normal" font-style="normal" fill="#1a1a1a">0.0</text>
<text transform="translate(316,204.88) scale(1.06,1)" font-size="10.5" text-anchor="start" font-family='"Liberation Sans", sans-serif' font-weight="normal" font-style="normal" fill="#1a1a1a">8000</text>
<text transform="translate(316,228.88) scale(1.06,1)" font-size="10.5" text-anchor="start" font-family='"Liberation Sans", sans-serif' font-weight="normal" font-style="normal" fill="#1a1a1a">6000</text>
<text transform="translate(316,252.68) scale(1.06,1)" font-size="10.5" text-anchor="start" font-family='"Liberation Sans", sans-serif' font-weight="normal" font-style="normal" fill="#1a1a1a">4000</text>
<text transform="translate(316,276.18) scale(1.06,1)" font-size="10.5" text-anchor="start" font-family='"Liberation Sans", sans-serif' font-weight="normal" font-style="normal" fill="#1a1a1a">2000</text>
<text transform="translate(316,300.98) scale(1.06,1)" font-size="10.5" text-anchor="start" font-family='"Liberation Sans", sans-serif' font-weight="normal" font-style="normal" fill="#1a1a1a">0</text>
<text transform="translate(215.6,315.07) scale(1.06,1)" font-size="10.5" text-anchor="middle" font-family='"Liberation Sans", sans-serif' font-weight="normal" font-style="normal" fill="#1a1a1a">0</text>
<text transform="translate(233,315.07) scale(1.06,1)" font-size="10.5" text-anchor="middle" font-family='"Liberation Sans", sans-serif' font-weight="normal" font-style="normal" fill="#1a1a1a">20</text>
<text transform="translate(251.4,315.07) scale(1.06,1)" font-size="10.5" text-anchor="middle" font-family='"Liberation Sans", sans-serif' font-weight="normal" font-style="normal" fill="#1a1a1a">40</text>
<text transform="translate(269.4,315.07) scale(1.06,1)" font-size="10.5" text-anchor="middle" font-family='"Liberation Sans", sans-serif' font-weight="normal" font-style="normal" fill="#1a1a1a">60</text>
<text transform="translate(287.9,315.07) scale(1.06,1)" font-size="10.5" text-anchor="middle" font-family='"Liberation Sans", sans-serif' font-weight="normal" font-style="normal" fill="#1a1a1a">80</text>
<text transform="translate(307.2,315.07)" font-size="10.5" text-anchor="middle" font-family='"Liberation Sans", sans-serif' font-weight="normal" font-style="normal" fill="#1a1a1a">100</text>
<text transform="translate(325,315.07) scale(0.93,1)" font-size="10.5" text-anchor="middle" font-family='"Liberation Sans", sans-serif' font-weight="normal" font-style="normal" fill="#1a1a1a">120</text>
<line x1="214.8" y1="291" x2="307.6" y2="291" stroke="#444" stroke-width="0.8" stroke-dasharray="3,1,1,1"/>
<polyline points="238.5,246 259.2,261.9 268.6,253.3 280.2,231 289.6,204.8 294.5,216.1 299,230.4" fill="none" stroke="#111" stroke-width="1.5" stroke-linejoin="round"/>
<circle cx="238.5" cy="246" r="1.8" fill="#111" stroke="none" stroke-width="0.8"/>
<circle cx="259.2" cy="261.9" r="1.8" fill="#111" stroke="none" stroke-width="0.8"/>
<circle cx="268.6" cy="253.3" r="1.8" fill="#111" stroke="none" stroke-width="0.8"/>
<circle cx="280.2" cy="231" r="1.8" fill="#111" stroke="none" stroke-width="0.8"/>
<circle cx="289.6" cy="204.8" r="1.8" fill="#111" stroke="none" stroke-width="0.8"/>
<circle cx="294.5" cy="216.1" r="1.8" fill="#111" stroke="none" stroke-width="0.8"/>
<circle cx="299" cy="230.4" r="1.8" fill="#111" stroke="none" stroke-width="0.8"/>
<polyline points="238.5,291 259,284.5 270,279 280.2,277 290.5,281.5 294,286 297,291.5" fill="none" stroke="#555" stroke-width="1.1" stroke-linejoin="round" stroke-dasharray="7,2.5"/>
<text transform="translate(370.2,204.98) scale(1.06,1)" font-size="10.5" text-anchor="end" font-family='"Liberation Sans", sans-serif' font-weight="normal" font-style="normal" fill="#1a1a1a">4</text>
<text transform="translate(370.2,229.18) scale(1.06,1)" font-size="10.5" text-anchor="end" font-family='"Liberation Sans", sans-serif' font-weight="normal" font-style="normal" fill="#1a1a1a">3</text>
<text transform="translate(370.2,253.88) scale(1.06,1)" font-size="10.5" text-anchor="end" font-family='"Liberation Sans", sans-serif' font-weight="normal" font-style="normal" fill="#1a1a1a">2</text>
<text transform="translate(370.2,277.98) scale(1.06,1)" font-size="10.5" text-anchor="end" font-family='"Liberation Sans", sans-serif' font-weight="normal" font-style="normal" fill="#1a1a1a">1</text>
<text transform="translate(370.2,301.88) scale(1.06,1)" font-size="10.5" text-anchor="end" font-family='"Liberation Sans", sans-serif' font-weight="normal" font-style="normal" fill="#1a1a1a">0</text>
<text transform="translate(468.5,205.78) scale(1.06,1)" font-size="10.5" text-anchor="start" font-family='"Liberation Sans", sans-serif' font-weight="normal" font-style="normal" fill="#1a1a1a">8000</text>
<text transform="translate(468.5,228.18) scale(1.06,1)" font-size="10.5" text-anchor="start" font-family='"Liberation Sans", sans-serif' font-weight="normal" font-style="normal" fill="#1a1a1a">6000</text>
<text transform="translate(468.5,251.58) scale(1.06,1)" font-size="10.5" text-anchor="start" font-family='"Liberation Sans", sans-serif' font-weight="normal" font-style="normal" fill="#1a1a1a">4000</text>
<text transform="translate(468.5,274.48) scale(1.06,1)" font-size="10.5" text-anchor="start" font-family='"Liberation Sans", sans-serif' font-weight="normal" font-style="normal" fill="#1a1a1a">2000</text>
<text transform="translate(473.2,301.78) scale(1.06,1)" font-size="10.5" text-anchor="start" font-family='"Liberation Sans", sans-serif' font-weight="normal" font-style="normal" fill="#1a1a1a">0</text>
<text transform="translate(374.7,313.18) scale(1.06,1)" font-size="10.5" text-anchor="middle" font-family='"Liberation Sans", sans-serif' font-weight="normal" font-style="normal" fill="#1a1a1a">0</text>
<text transform="translate(394.4,313.18) scale(1.06,1)" font-size="10.5" text-anchor="middle" font-family='"Liberation Sans", sans-serif' font-weight="normal" font-style="normal" fill="#1a1a1a">20</text>
<text transform="translate(412.6,313.18) scale(1.06,1)" font-size="10.5" text-anchor="middle" font-family='"Liberation Sans", sans-serif' font-weight="normal" font-style="normal" fill="#1a1a1a">40</text>
<text transform="translate(432,313.18) scale(1.06,1)" font-size="10.5" text-anchor="middle" font-family='"Liberation Sans", sans-serif' font-weight="normal" font-style="normal" fill="#1a1a1a">60</text>
<text transform="translate(450.6,313.18) scale(1.06,1)" font-size="10.5" text-anchor="middle" font-family='"Liberation Sans", sans-serif' font-weight="normal" font-style="normal" fill="#1a1a1a">80</text>
<text transform="translate(471,313.18) scale(1.06,1)" font-size="10.5" text-anchor="middle" font-family='"Liberation Sans", sans-serif' font-weight="normal" font-style="normal" fill="#1a1a1a">100</text>
<polyline points="397.9,223.7 408.4,217.5 413.8,215.6 419.2,225 426.2,231.2 431.3,216.4 448.8,237.1" fill="none" stroke="#111" stroke-width="1.3" stroke-linejoin="round"/>
<circle cx="397.9" cy="223.7" r="2.2" fill="#111" stroke="none" stroke-width="0.8"/>
<circle cx="408.4" cy="217.5" r="2.2" fill="#111" stroke="none" stroke-width="0.8"/>
<circle cx="413.8" cy="215.6" r="2.2" fill="#111" stroke="none" stroke-width="0.8"/>
<circle cx="419.2" cy="225" r="2.2" fill="#111" stroke="none" stroke-width="0.8"/>
<circle cx="426.2" cy="231.2" r="2.2" fill="#111" stroke="none" stroke-width="0.8"/>
<circle cx="431.3" cy="216.4" r="2.2" fill="#111" stroke="none" stroke-width="0.8"/>
<circle cx="448.8" cy="237.1" r="2.2" fill="#111" stroke="none" stroke-width="0.8"/>
<polyline points="397.1,276.2 407.9,265.4 414.6,276.2 418.7,283.7 426.7,282.9 430.8,290.2 449.1,287.5" fill="none" stroke="#9a9a9a" stroke-width="1.0" stroke-linejoin="round" stroke-dasharray="5,2.5"/>
<circle cx="397.1" cy="276.2" r="1.3" fill="none" stroke="#999" stroke-width="0.6"/>
<circle cx="407.9" cy="265.4" r="1.3" fill="none" stroke="#999" stroke-width="0.6"/>
<circle cx="414.6" cy="276.2" r="1.3" fill="none" stroke="#999" stroke-width="0.6"/>
<circle cx="418.7" cy="283.7" r="1.3" fill="none" stroke="#999" stroke-width="0.6"/>
<circle cx="426.7" cy="282.9" r="1.3" fill="none" stroke="#999" stroke-width="0.6"/>
<circle cx="430.8" cy="290.2" r="1.3" fill="none" stroke="#999" stroke-width="0.6"/>
<circle cx="449.1" cy="287.5" r="1.3" fill="none" stroke="#999" stroke-width="0.6"/>
<text transform="translate(511.7,248.9) rotate(-90)" text-anchor="middle" font-size="14.5" font-family='"Liberation Serif", serif' fill="#1a1a1a">IFN&#947; prod/10<tspan font-size="8.5" baseline-shift="5.5">6</tspan> CD8<tspan font-size="8.5" baseline-shift="5.5">+</tspan></text>
<line x1="56" y1="363.2" x2="150.3" y2="363.2" stroke="#666" stroke-width="1"/>
<line x1="150.3" y1="363.2" x2="150.3" y2="459.6" stroke="#666" stroke-width="1"/>
<line x1="56" y1="459.6" x2="150.3" y2="459.6" stroke="#777" stroke-width="1"/>
<line x1="56" y1="363.2" x2="56" y2="459.6" stroke="#999" stroke-width="1"/>
<line x1="215.4" y1="362.6" x2="308.5" y2="362.6" stroke="#999" stroke-width="1"/>
<line x1="308.5" y1="362.6" x2="308.5" y2="460.7" stroke="#999" stroke-width="1"/>
<line x1="215.4" y1="460.7" x2="308.5" y2="460.7" stroke="#555" stroke-width="1"/>
<line x1="215.4" y1="362.6" x2="215.4" y2="460.7" stroke="#999" stroke-width="1"/>
<line x1="372.5" y1="363" x2="467" y2="363" stroke="#a0a0a0" stroke-width="1"/>
<line x1="467" y1="363" x2="467" y2="463" stroke="#a0a0a0" stroke-width="1"/>
<line x1="372.5" y1="463" x2="467" y2="463" stroke="#666" stroke-width="1"/>
<line x1="372.5" y1="363" x2="372.5" y2="463" stroke="#888" stroke-width="1"/>
<text transform="translate(57,369.07) scale(1.06,1)" font-size="10.5" text-anchor="end" font-family='"Liberation Sans", sans-serif' fill="#1a1a1a">1.5x10<tspan font-size="8" baseline-shift="5">5</tspan></text>
<text transform="translate(57,401.18) scale(1.06,1)" font-size="10.5" text-anchor="end" font-family='"Liberation Sans", sans-serif' fill="#1a1a1a">1.0x10<tspan font-size="8" baseline-shift="5">5</tspan></text>
<text transform="translate(57,433.18) scale(1.06,1)" font-size="10.5" text-anchor="end" font-family='"Liberation Sans", sans-serif' fill="#1a1a1a">5.0x10<tspan font-size="8" baseline-shift="5">4</tspan></text>
<text transform="translate(52,464.68) scale(1.06,1)" font-size="10.5" text-anchor="end" font-family='"Liberation Sans", sans-serif' font-weight="normal" font-style="normal" fill="#1a1a1a">0.0</text>
<text transform="translate(157.7,369.48) scale(1.06,1)" font-size="10.5" text-anchor="start" font-family='"Liberation Sans", sans-serif' font-weight="normal" font-style="normal" fill="#1a1a1a">2000</text>
<text transform="translate(157.7,388.48) scale(1.06,1)" font-size="10.5" text-anchor="start" font-family='"Liberation Sans", sans-serif' font-weight="normal" font-style="normal" fill="#1a1a1a">1600</text>
<text transform="translate(157.7,407.68) scale(1.06,1)" font-size="10.5" text-anchor="start" font-family='"Liberation Sans", sans-serif' font-weight="normal" font-style="normal" fill="#1a1a1a">1200</text>
<text transform="translate(157.7,422.38) scale(1.06,1)" font-size="10.5" text-anchor="start" font-family='"Liberation Sans", sans-serif' font-weight="normal" font-style="normal" fill="#1a1a1a">800</text>
<text transform="translate(157.7,441.68) scale(1.06,1)" font-size="10.5" text-anchor="start" font-family='"Liberation Sans", sans-serif' font-weight="normal" font-style="normal" fill="#1a1a1a">400</text>
<text transform="translate(157.7,460.88) scale(1.06,1)" font-size="10.5" text-anchor="start" font-family='"Liberation Sans", sans-serif' font-weight="normal" font-style="normal" fill="#1a1a1a">0</text>
<text transform="translate(58.3,477.38) scale(1.06,1)" font-size="10.5" text-anchor="middle" font-family='"Liberation Sans", sans-serif' font-weight="normal" font-style="normal" fill="#1a1a1a">0</text>
<text transform="translate(75,477.38) scale(1.06,1)" font-size="10.5" text-anchor="middle" font-family='"Liberation Sans", sans-serif' font-weight="normal" font-style="normal" fill="#1a1a1a">20</text>
<text transform="translate(90.7,477.38) scale(1.06,1)" font-size="10.5" text-anchor="middle" font-family='"Liberation Sans", sans-serif' font-weight="normal" font-style="normal" fill="#1a1a1a">40</text>
<text transform="translate(106,477.38) scale(1.06,1)" font-size="10.5" text-anchor="middle" font-family='"Liberation Sans", sans-serif' font-weight="normal" font-style="normal" fill="#1a1a1a">60</text>
<text transform="translate(122,477.38) scale(1.06,1)" font-size="10.5" text-anchor="middle" font-family='"Liberation Sans", sans-serif' font-weight="normal" font-style="normal" fill="#1a1a1a">80</text>
<text transform="translate(139.5,477.38) scale(1.06,1)" font-size="10.5" text-anchor="middle" font-family='"Liberation Sans", sans-serif' font-weight="normal" font-style="normal" fill="#1a1a1a">100</text>
<text transform="translate(155.5,477.38) scale(1.06,1)" font-size="10.5" text-anchor="middle" font-family='"Liberation Sans", sans-serif' font-weight="normal" font-style="normal" fill="#1a1a1a">120</text>
<text transform="translate(13.9,415.4) rotate(-90)" text-anchor="middle" font-size="14.5" font-family='"Liberation Serif", serif' fill="#1a1a1a">EBV load/10<tspan font-size="8.5" baseline-shift="5.5">6</tspan> PBMC</text>
<polyline points="78.7,453.3 94.7,366.7 100.2,442.3 105.8,456.2 110.4,449.2 112.3,456 114,452 115.6,454.4 117.3,456.7" fill="none" stroke="#111" stroke-width="1.3" stroke-linejoin="round"/>
<circle cx="78.7" cy="453.3" r="1.7" fill="#111" stroke="none" stroke-width="0.8"/>
<circle cx="94.7" cy="366.7" r="1.7" fill="#111" stroke="none" stroke-width="0.8"/>
<circle cx="100.2" cy="442.3" r="1.7" fill="#111" stroke="none" stroke-width="0.8"/>
<circle cx="105.8" cy="456.2" r="1.7" fill="#111" stroke="none" stroke-width="0.8"/>
<circle cx="110.4" cy="449.2" r="1.7" fill="#111" stroke="none" stroke-width="0.8"/>
<polyline points="78.7,442.3 87.9,452.1 94.2,459.4 100.2,454.8 105.8,453.3 108.1,455 112.7,459 116,457 119,457.9" fill="none" stroke="#222" stroke-width="1.1" stroke-linejoin="round"/>
<circle cx="78.7" cy="442.3" r="1.5" fill="#fff" stroke="#333" stroke-width="0.7"/>
<circle cx="94.2" cy="459.4" r="1.5" fill="#fff" stroke="#333" stroke-width="0.7"/>
<circle cx="100.2" cy="454.8" r="1.5" fill="#fff" stroke="#333" stroke-width="0.7"/>
<circle cx="105.8" cy="453.3" r="1.5" fill="#fff" stroke="#333" stroke-width="0.7"/>
<circle cx="112.7" cy="459" r="1.5" fill="#fff" stroke="#333" stroke-width="0.7"/>
<circle cx="119" cy="457.9" r="1.5" fill="#fff" stroke="#333" stroke-width="0.7"/>
<line x1="111.9" y1="483" x2="111.9" y2="499.8" stroke="#111" stroke-width="1.2"/>
<path d="M111.9,479.2 L109.9,485.5 L113.9,485.5 Z" fill="#111"/>
<text transform="translate(114.3,502.9) scale(1.12,1)" font-size="10.8" text-anchor="start" font-family='"Liberation Serif", serif' font-weight="normal" font-style="normal" fill="#1a1a1a" stroke="#1a1a1a" stroke-width="0.12">NHL</text>
<text transform="translate(215.5,369.28) scale(1.06,1)" font-size="10.5" text-anchor="end" font-family='"Liberation Sans", sans-serif' fill="#1a1a1a">1x10<tspan font-size="8" baseline-shift="5">4</tspan></text>
<text transform="translate(215.5,389.07) scale(1.06,1)" font-size="10.5" text-anchor="end" font-family='"Liberation Sans", sans-serif' fill="#1a1a1a">8x10<tspan font-size="8" baseline-shift="5">3</tspan></text>
<text transform="translate(215.5,409.07) scale(1.06,1)" font-size="10.5" text-anchor="end" font-family='"Liberation Sans", sans-serif' fill="#1a1a1a">6x10<tspan font-size="8" baseline-shift="5">3</tspan></text>
<text transform="translate(215.5,428.48) scale(1.06,1)" font-size="10.5" text-anchor="end" font-family='"Liberation Sans", sans-serif' fill="#1a1a1a">4x10<tspan font-size="8" baseline-shift="5">3</tspan></text>
<text transform="translate(215.5,448.18) scale(1.06,1)" font-size="10.5" text-anchor="end" font-family='"Liberation Sans", sans-serif' fill="#1a1a1a">2x10<tspan font-size="8" baseline-shift="5">3</tspan></text>
<text transform="translate(194,466.38) scale(1.06,1)" font-size="10.5" text-anchor="start" font-family='"Liberation Sans", sans-serif' font-weight="normal" font-style="normal" fill="#1a1a1a">0</text>
<text transform="translate(316.2,368.88) scale(1.06,1)" font-size="10.5" text-anchor="start" font-family='"Liberation Sans", sans-serif' font-weight="normal" font-style="normal" fill="#1a1a1a">2000</text>
<text transform="translate(316.2,389.18) scale(1.06,1)" font-size="10.5" text-anchor="start" font-family='"Liberation Sans", sans-serif' font-weight="normal" font-style="normal" fill="#1a1a1a">1600</text>
<text transform="translate(316.2,409.07) scale(1.06,1)" font-size="10.5" text-anchor="start" font-family='"Liberation Sans", sans-serif' font-weight="normal" font-style="normal" fill="#1a1a1a">1200</text>
<text transform="translate(316.2,427.78) scale(1.06,1)" font-size="10.5" text-anchor="start" font-family='"Liberation Sans", sans-serif' font-weight="normal" font-style="normal" fill="#1a1a1a">800</text>
<text transform="translate(319,447.57) scale(1.06,1)" font-size="10.5" text-anchor="start" font-family='"Liberation Sans", sans-serif' font-weight="normal" font-style="normal" fill="#1a1a1a">400</text>
<text transform="translate(322.8,467.07) scale(1.06,1)" font-size="10.5" text-anchor="start" font-family='"Liberation Sans", sans-serif' font-weight="normal" font-style="normal" fill="#1a1a1a">0</text>
<line x1="309.5" y1="447" x2="320.5" y2="447" stroke="#333" stroke-width="1.0" stroke-dasharray="1.6,1.2"/>
<text transform="translate(217.3,479.18) scale(1.06,1)" font-size="10.5" text-anchor="middle" font-family='"Liberation Sans", sans-serif' font-weight="normal" font-style="normal" fill="#1a1a1a">0</text>
<text transform="translate(234.4,479.18) scale(1.06,1)" font-size="10.5" text-anchor="middle" font-family='"Liberation Sans", sans-serif' font-weight="normal" font-style="normal" fill="#1a1a1a">20</text>
<text transform="translate(250.4,479.18) scale(1.06,1)" font-size="10.5" text-anchor="middle" font-family='"Liberation Sans", sans-serif' font-weight="normal" font-style="normal" fill="#1a1a1a">40</text>
<text transform="translate(265.6,479.18) scale(1.06,1)" font-size="10.5" text-anchor="middle" font-family='"Liberation Sans", sans-serif' font-weight="normal" font-style="normal" fill="#1a1a1a">60</text>
<text transform="translate(281,479.18) scale(1.06,1)" font-size="10.5" text-anchor="middle" font-family='"Liberation Sans", sans-serif' font-weight="normal" font-style="normal" fill="#1a1a1a">80</text>
<text transform="translate(298.3,479.18) scale(1.06,1)" font-size="10.5" text-anchor="middle" font-family='"Liberation Sans", sans-serif' font-weight="normal" font-style="normal" fill="#1a1a1a">100</text>
<text transform="translate(314.8,479.18) scale(1.06,1)" font-size="10.5" text-anchor="middle" font-family='"Liberation Sans", sans-serif' font-weight="normal" font-style="normal" fill="#1a1a1a">120</text>
<polyline points="239.2,460.2 260.2,459.8 269.1,460.8 280.8,435.2 290,421.4 295.2,396.2 300.5,375.2" fill="none" stroke="#111" stroke-width="1.3" stroke-linejoin="round"/>
<circle cx="239.2" cy="460.2" r="1.6" fill="#111" stroke="none" stroke-width="0.8"/>
<circle cx="260.2" cy="459.8" r="1.6" fill="#111" stroke="none" stroke-width="0.8"/>
<circle cx="269.1" cy="460.8" r="1.6" fill="#111" stroke="none" stroke-width="0.8"/>
<circle cx="280.8" cy="435.2" r="1.6" fill="#111" stroke="none" stroke-width="0.8"/>
<circle cx="290" cy="421.4" r="1.6" fill="#111" stroke="none" stroke-width="0.8"/>
<circle cx="295.2" cy="396.2" r="1.6" fill="#111" stroke="none" stroke-width="0.8"/>
<circle cx="300.5" cy="375.2" r="1.6" fill="#111" stroke="none" stroke-width="0.8"/>
<polyline points="239.2,439.8 260.2,417.7" fill="none" stroke="#222" stroke-width="1.1" stroke-linejoin="round" stroke-dasharray="12,5,30"/>
<polyline points="260.2,417.7 269.1,398.6" fill="none" stroke="#222" stroke-width="1.1" stroke-linejoin="round"/>
<polyline points="269.1,398.6 281.4,387.5" fill="none" stroke="#222" stroke-width="1.1" stroke-linejoin="round" stroke-dasharray="6,3,30"/>
<polyline points="281.4,387.5 290,397.7 295.2,426.9" fill="none" stroke="#222" stroke-width="1.1" stroke-linejoin="round"/>
<polyline points="295.2,426.9 299.8,450.9" fill="none" stroke="#222" stroke-width="1.1" stroke-linejoin="round" stroke-dasharray="7,4,30"/>
<circle cx="239.2" cy="439.8" r="1.5" fill="#fff" stroke="#333" stroke-width="0.7"/>
<circle cx="260.2" cy="417.7" r="1.5" fill="#fff" stroke="#333" stroke-width="0.7"/>
<circle cx="269.1" cy="398.6" r="1.5" fill="#fff" stroke="#333" stroke-width="0.7"/>
<circle cx="281.4" cy="387.5" r="1.5" fill="#fff" stroke="#333" stroke-width="0.7"/>
<circle cx="290" cy="397.7" r="1.5" fill="#fff" stroke="#333" stroke-width="0.7"/>
<circle cx="295.2" cy="426.9" r="1.5" fill="#fff" stroke="#333" stroke-width="0.7"/>
<circle cx="299.8" cy="450.9" r="1.9" fill="#ddd" stroke="#777" stroke-width="0.7"/>
<line x1="309.9" y1="483" x2="309.9" y2="499.4" stroke="#111" stroke-width="1.2"/>
<path d="M309.9,478.8 L307.9,485.2 L311.9,485.2 Z" fill="#111"/>
<text transform="translate(312.6,502.9) scale(1.12,1)" font-size="10.8" text-anchor="start" font-family='"Liberation Serif", serif' font-weight="normal" font-style="normal" fill="#1a1a1a" stroke="#1a1a1a" stroke-width="0.12">NHL</text>
<text transform="translate(372,370.07) scale(1.06,1)" font-size="10.5" text-anchor="end" font-family='"Liberation Sans", sans-serif' fill="#1a1a1a">3x10<tspan font-size="8" baseline-shift="5">4</tspan></text>
<text transform="translate(372,402.88) scale(1.06,1)" font-size="10.5" text-anchor="end" font-family='"Liberation Sans", sans-serif' fill="#1a1a1a">2x10<tspan font-size="8" baseline-shift="5">4</tspan></text>
<text transform="translate(372,435.68) scale(1.06,1)" font-size="10.5" text-anchor="end" font-family='"Liberation Sans", sans-serif' fill="#1a1a1a">1x10<tspan font-size="8" baseline-shift="5">4</tspan></text>
<text transform="translate(353.3,469.18) scale(1.06,1)" font-size="10.5" text-anchor="start" font-family='"Liberation Sans", sans-serif' font-weight="normal" font-style="normal" fill="#1a1a1a">0</text>
<text transform="translate(473,368.18) scale(1.06,1)" font-size="10.5" text-anchor="start" font-family='"Liberation Sans", sans-serif' font-weight="normal" font-style="normal" fill="#1a1a1a">3000</text>
<text transform="translate(473,401.88) scale(1.06,1)" font-size="10.5" text-anchor="start" font-family='"Liberation Sans", sans-serif' font-weight="normal" font-style="normal" fill="#1a1a1a">2000</text>
<text transform="translate(473,434.78) scale(1.06,1)" font-size="10.5" text-anchor="start" font-family='"Liberation Sans", sans-serif' font-weight="normal" font-style="normal" fill="#1a1a1a">1000</text>
<text transform="translate(474.6,469.07) scale(1.06,1)" font-size="10.5" text-anchor="start" font-family='"Liberation Sans", sans-serif' font-weight="normal" font-style="normal" fill="#1a1a1a">0</text>
<text transform="translate(374.2,479.88) scale(1.06,1)" font-size="10.5" text-anchor="middle" font-family='"Liberation Sans", sans-serif' font-weight="normal" font-style="normal" fill="#1a1a1a">0</text>
<text transform="translate(394,479.88) scale(1.06,1)" font-size="10.5" text-anchor="middle" font-family='"Liberation Sans", sans-serif' font-weight="normal" font-style="normal" fill="#1a1a1a">20</text>
<text transform="translate(412,479.88) scale(1.06,1)" font-size="10.5" text-anchor="middle" font-family='"Liberation Sans", sans-serif' font-weight="normal" font-style="normal" fill="#1a1a1a">40</text>
<text transform="translate(431,479.88) scale(1.06,1)" font-size="10.5" text-anchor="middle" font-family='"Liberation Sans", sans-serif' font-weight="normal" font-style="normal" fill="#1a1a1a">60</text>
<text transform="translate(449.8,479.88) scale(1.06,1)" font-size="10.5" text-anchor="middle" font-family='"Liberation Sans", sans-serif' font-weight="normal" font-style="normal" fill="#1a1a1a">80</text>
<text transform="translate(470.5,479.88) scale(1.06,1)" font-size="10.5" text-anchor="middle" font-family='"Liberation Sans", sans-serif' font-weight="normal" font-style="normal" fill="#1a1a1a">100</text>
<polyline points="396.9,375.6 407.9,430.2 414.7,409.8 419.8,442.4 427.3,411.1 432.7,376.1 450.7,406.5" fill="none" stroke="#222" stroke-width="1.1" stroke-linejoin="round"/>
<circle cx="396.9" cy="375.6" r="1.8" fill="#111" stroke="none" stroke-width="0.8"/>
<circle cx="407.9" cy="430.2" r="1.8" fill="#111" stroke="none" stroke-width="0.8"/>
<circle cx="414.7" cy="409.8" r="1.8" fill="#111" stroke="none" stroke-width="0.8"/>
<circle cx="419.8" cy="442.4" r="1.8" fill="#111" stroke="none" stroke-width="0.8"/>
<circle cx="427.3" cy="411.1" r="1.8" fill="#111" stroke="none" stroke-width="0.8"/>
<circle cx="432.7" cy="376.1" r="1.8" fill="#111" stroke="none" stroke-width="0.8"/>
<circle cx="450.7" cy="406.5" r="1.8" fill="#111" stroke="none" stroke-width="0.8"/>
<polyline points="396.3,409.8 408.5,381 413.8,402 419.8,435.6 427.9,429.4 432.2,448.3 450.7,440.7" fill="none" stroke="#888" stroke-width="1.1" stroke-linejoin="round" stroke-dasharray="6,3"/>
<circle cx="396.3" cy="409.8" r="1.4" fill="#fff" stroke="#999" stroke-width="0.6"/>
<circle cx="408.5" cy="381" r="1.4" fill="#fff" stroke="#999" stroke-width="0.6"/>
<circle cx="413.8" cy="402" r="1.4" fill="#fff" stroke="#999" stroke-width="0.6"/>
<circle cx="419.8" cy="435.6" r="1.4" fill="#fff" stroke="#999" stroke-width="0.6"/>
<circle cx="427.9" cy="429.4" r="1.4" fill="#fff" stroke="#999" stroke-width="0.6"/>
<circle cx="432.2" cy="448.3" r="1.4" fill="#fff" stroke="#999" stroke-width="0.6"/>
<circle cx="450.7" cy="440.7" r="1.4" fill="#fff" stroke="#999" stroke-width="0.6"/>
<text transform="translate(514.2,410.9) rotate(-90)" text-anchor="middle" font-size="14.5" font-family='"Liberation Serif", serif' fill="#1a1a1a">IFN&#947; prod/10<tspan font-size="8.5" baseline-shift="5.5">6</tspan> CD8<tspan font-size="8.5" baseline-shift="5.5">+</tspan></text>
<path d="M441.4,475.2 L437.2,482.3 L440.3,482.3 L440.3,494.6 L443.3,494.6 L443.3,482.3 L447.4,482.3 Z" fill="#fff" stroke="#111" stroke-width="1.3" stroke-linejoin="miter"/>
<text transform="translate(422.3,499.3)" font-size="10.6" text-anchor="start" font-family='"Liberation Serif", serif' font-weight="normal" font-style="normal" fill="#1a1a1a" stroke="#1a1a1a" stroke-width="0.12">DDI</text>
<line x1="462.8" y1="481" x2="462.8" y2="499" stroke="#111" stroke-width="1.2"/>
<path d="M462.7,476.8 L460.6,483.6 L464.8,483.6 Z" fill="#111"/>
<text transform="translate(467,499.5) scale(1.12,1)" font-size="10.6" text-anchor="start" font-family='"Liberation Serif", serif' font-weight="normal" font-style="normal" fill="#1a1a1a" stroke="#1a1a1a" stroke-width="0.12">NHL</text>
<text transform="translate(260.5,547.7) scale(1.09,1)" font-size="17.7" text-anchor="middle" font-family='"Liberation Serif", serif' font-weight="normal" font-style="normal" fill="#1a1a1a" stroke="#1a1a1a" stroke-width="0.1">time (months)</text>
</svg>
</body></html>
